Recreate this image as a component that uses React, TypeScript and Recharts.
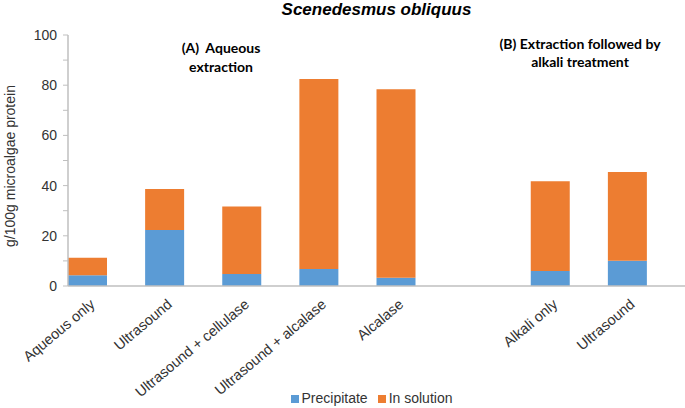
import { Bar, BarChart, Legend, XAxis, YAxis } from "recharts";

const categories = [
    "Aqueous only",
    "Ultrasound",
    "Ultrasound + cellulase",
    "Ultrasound + alcalase",
    "Alcalase",
    "",
    "Alkali only",
    "Ultrasound",
];
const precipitate = [4.3, 22.3, 4.8, 6.8, 3.3, null, 6.0, 10.1];
const inSolution = [7.0, 16.3, 26.9, 75.7, 75.1, null, 35.7, 35.3];
const yTicks = [0, 10, 20, 30, 40, 50, 60, 70, 80, 90, 100];

const data = categories.map((name, i) => ({
    name,
    precipitate: precipitate[i],
    inSolution: inSolution[i],
}));

const axisColor = "#BFBFBF";
const textColor = "#333333";
const font = "'Liberation Sans', Arial, sans-serif";
const boldFont = "Lato, 'Open Sans', sans-serif";
const seriesOrder = ["precipitate", "inSolution"];

function XTick({ x, y, payload }: any) {
    if (!payload.value) return null;
    const ax = x + 5;
    const ay = y + 8;
    return (
        <text
            x={ax}
            y={ay}
            transform={`rotate(-40, ${ax}, ${ay})`}
            textAnchor="end"
            dy="0.35em"
            fontSize={14.5}
            fontFamily={font}
            fill={textColor}
        >
            {payload.value}
        </text>
    );
}

function YTick({ x, y, payload }: any) {
    if (payload.value % 20 !== 0) return null;
    return (
        <text x={x} y={y} textAnchor="end" dy="0.35em" fontSize={14} fontFamily={font} fill={textColor}>
            {payload.value}
        </text>
    );
}

export default function App() {
    return (
        <div style={{ position: "absolute", left: 0, top: 0, width: 685, height: 408, background: "#fff" }}>
            <BarChart
                width={685}
                height={408}
                data={data}
                margin={{ top: 35, right: 0, bottom: 0, left: 28 }}
                barCategoryGap={19}
            >
                <XAxis
                    dataKey="name"
                    height={122}
                    interval={0}
                    tickLine={false}
                    axisLine={{ stroke: axisColor, strokeWidth: 1.5 }}
                    padding={{ left: -19, right: 19 }}
                    tick={<XTick />}
                />
                <YAxis
                    width={40}
                    domain={[0, 100]}
                    ticks={yTicks}
                    interval={0}
                    tickSize={5}
                    tickMargin={6}
                    tickLine={{ stroke: axisColor }}
                    axisLine={{ stroke: axisColor, strokeWidth: 1.5 }}
                    tick={<YTick />}
                />
                <Legend
                    layout="horizontal"
                    verticalAlign="middle"
                    align="center"
                    iconType="square"
                    iconSize={8}
                    itemSorter={(item: any) => seriesOrder.indexOf(item.dataKey)}
                    wrapperStyle={{ top: 390, left: 34, width: 685, fontFamily: font, fontSize: 14 }}
                    formatter={(value) => <span style={{ color: textColor, marginLeft: -1 }}>{value}</span>}
                />
                <Bar dataKey="precipitate" name="Precipitate" stackId="a" fill="#5B9BD5" isAnimationActive={false} />
                <Bar dataKey="inSolution" name="In solution" stackId="a" fill="#ED7D31" isAnimationActive={false} />
            </BarChart>
            <div
                style={{
                    position: "absolute",
                    left: 68,
                    width: 617,
                    top: 0,
                    textAlign: "center",
                    fontFamily: font,
                    fontSize: 17,
                    fontWeight: "bold",
                    fontStyle: "italic",
                    color: "#000",
                    lineHeight: "19px",
                }}
            >
                Scenedesmus obliquus
            </div>
            <div
                style={{
                    position: "absolute",
                    left: 121,
                    width: 200,
                    top: 38,
                    textAlign: "center",
                    fontFamily: boldFont,
                    fontSize: 14,
                    fontWeight: "bold",
                    color: "#000",
                    lineHeight: "19px",
                    whiteSpace: "pre",
                }}
            >
                {"(A)  Aqueous\nextraction"}
            </div>
            <div
                style={{
                    position: "absolute",
                    left: 460,
                    width: 240,
                    top: 35,
                    textAlign: "center",
                    fontFamily: boldFont,
                    fontSize: 14,
                    fontWeight: "bold",
                    color: "#000",
                    lineHeight: "18px",
                    whiteSpace: "pre",
                }}
            >
                {"(B) Extraction followed by\nalkali treatment"}
            </div>
            <div
                style={{
                    position: "absolute",
                    left: 10,
                    top: 166,
                    transform: "translate(-50%, -50%) rotate(-90deg)",
                    fontFamily: font,
                    fontSize: 14,
                    color: textColor,
                    whiteSpace: "nowrap",
                }}
            >
                g/100g microalgae protein
            </div>
        </div>
    );
}
